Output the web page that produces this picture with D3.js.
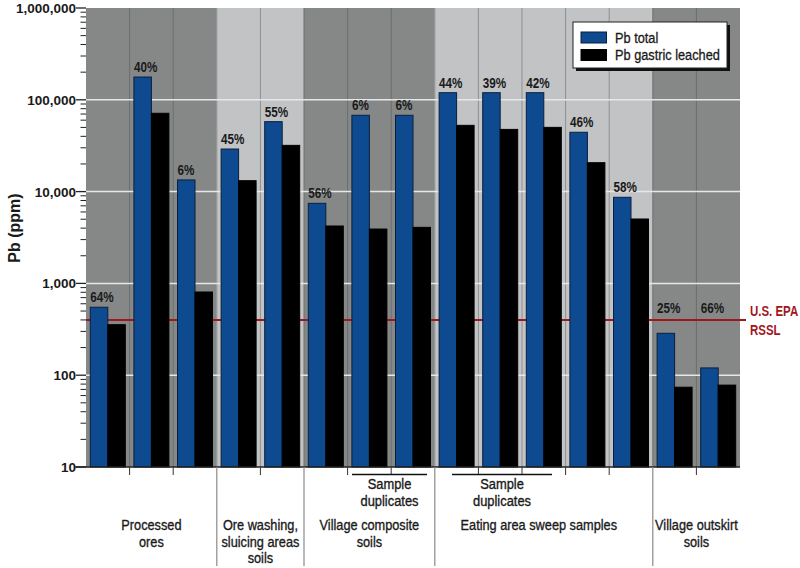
<!DOCTYPE html>
<html><head><meta charset="utf-8">
<script src="https://cdn.jsdelivr.net/npm/d3@7"></script>
<style>
body{margin:0;background:#fff;}
svg{display:block;}
text{font-family:"Liberation Sans",Arial,sans-serif;fill:#1a1a1a;}
</style></head>
<body><svg id="c" width="800" height="568"></svg>
<script>
// ---- data ----
const samples = ["PO-1","PO-2","PO-3","OW-1","OW-2","VC-1","VC-2","VC-3","EA-1","EA-2","EA-3","EA-4","EA-5","VO-1","VO-2"];
const pbTotal   = [550, 177000, 13400, 29100, 57800, 7450, 67800, 67800, 119500, 119500, 119500, 44300, 8670, 286, 120];
const pbLeached = [355, 71300, 806, 13150, 31900, 4220, 3910, 4080, 52700, 47600, 50100, 20650, 5030, 74, 78];
const pctLabels = ["64%","40%","6%","45%","55%","56%","6%","6%","44%","39%","42%","46%","58%","25%","66%"];
const groupNames = [["Processed","ores"],["Ore washing,","sluicing areas","soils"],["Village composite","soils"],["Eating area sweep samples"],["Village outskirt","soils"]];
const groupSizes = [3,2,3,5,2];
const groupShade = ["dark","light","dark","light","dark"];
const duplicateSets = [[6,7],[8,10]];
const yTicks = [10,100,1000,10000,100000,1000000];
const rssl = 400;
const seriesNames = ["Pb total","Pb gastric leached"];

// ---- layout ----
const L=86, R=740, T=8, B=467;
const svg = d3.select("#c");
const x = d3.scaleBand().domain(d3.range(samples.length)).range([L,R]).padding(0);
const x1 = d3.scaleBand().domain([0,1]).range([0,x.bandwidth()]).paddingInner(0).paddingOuter(0.246);
const y = d3.scaleLog().domain([10,1000000]).range([B,T]);
const colors = {dark:"#858887", light:"#c1c3c5"};
const sepColor = {dark:"#6b6e6e", light:"#8e9092"};
const blue="#0d4a8f", red="#a1161c";

function txt(parent, tx, ty, str, o){
  o = Object.assign({size:15, weight:"normal", anchor:"start", sx:1, fill:"#1a1a1a", sw:0}, o||{});
  const t = parent.append("text")
    .attr("transform",`translate(${tx},${ty}) scale(${o.sx},1)`)
    .attr("text-anchor",o.anchor).attr("font-size",o.size).attr("font-weight",o.weight)
    .style("fill",o.fill).text(str);
  if(o.sw) t.attr("stroke",o.fill).attr("stroke-width",o.sw);
  return t;
}

// group extents
let start=0;
const groups = groupSizes.map((n,i)=>{const g={i,s:start,e:start+n-1,shade:groupShade[i],name:groupNames[i]}; start+=n; return g;});

// backgrounds
svg.append("g").selectAll("rect").data(groups).join("rect")
  .attr("x",g=>x(g.s)).attr("y",T).attr("width",g=>x(g.e)+x.bandwidth()-x(g.s)).attr("height",B-T)
  .attr("fill",g=>colors[g.shade]);

// column separators
const sepIdx = d3.range(1,samples.length);
svg.append("g").selectAll("line").data(sepIdx).join("line")
  .attr("x1",i=>x(i)).attr("x2",i=>x(i)).attr("y1",T).attr("y2",B)
  .attr("stroke",i=>{const g=groups.find(g=>i>=g.s&&i<=g.e);return sepColor[g.shade];})
  .attr("stroke-width",1);

// gridlines
svg.append("g").selectAll("line").data(yTicks.slice(1,-1)).join("line")
  .attr("x1",L).attr("x2",R).attr("y1",d=>y(d)).attr("y2",d=>y(d))
  .attr("stroke","#e6e7e7").attr("stroke-width",1.5);

// RSSL line
svg.append("line").attr("x1",L).attr("x2",746).attr("y1",y(rssl)).attr("y2",y(rssl))
  .attr("stroke",red).attr("stroke-width",2);
txt(svg,750,y(rssl)-4,"U.S. EPA",{size:15.5,weight:"bold",sx:0.74,fill:red});
txt(svg,750,y(rssl)+15,"RSSL",{size:15.5,weight:"bold",sx:0.74,fill:red});

// bars
const bars = svg.append("g");
samples.forEach((s,i)=>{
  [pbTotal[i],pbLeached[i]].forEach((v,k)=>{
    bars.append("rect").attr("x",x(i)+x1(k)).attr("y",y(v)).attr("width",x1.bandwidth()).attr("height",B-y(v))
      .attr("fill",k===0?blue:"#000").attr("stroke",k===0?"#0c1f3d":"#000").attr("stroke-width",1);
  });
});

// pct labels
const pg = svg.append("g");
samples.forEach((s,i)=>{
  txt(pg, x(i)+x1(0), Math.min(y(pbTotal[i])-5, y(rssl)-7), pctLabels[i], {size:15, weight:"bold", sx:0.78});
});

// y axis
const yAxisG = svg.append("g");
const minor = [];
for(let e=1;e<6;e++) for(let m=2;m<10;m++) minor.push(m*Math.pow(10,e));
yAxisG.selectAll("line.minor").data(minor).join("line").attr("class","minor")
  .attr("x1",80.5).attr("x2",L).attr("y1",d=>y(d)).attr("y2",d=>y(d)).attr("stroke","#222").attr("stroke-width",1);
yAxisG.selectAll("line.major").data(yTicks).join("line").attr("class","major")
  .attr("x1",76).attr("x2",L).attr("y1",d=>y(d)).attr("y2",d=>y(d)).attr("stroke","#222").attr("stroke-width",1.3);
yTicks.forEach(d=>txt(yAxisG, 76, y(d)+5, d3.format(",")(d), {size:13.5, weight:"bold", anchor:"end", sx:1}));
svg.append("text").attr("transform","translate(20,228) rotate(-90)").attr("text-anchor","middle")
  .attr("font-size",16).attr("font-weight","bold").text("Pb (ppm)");

// x axis baseline
svg.append("line").attr("x1",75).attr("x2",R).attr("y1",B).attr("y2",B).attr("stroke","#222").attr("stroke-width",1.3);
const groupBounds = groups.slice(1).map(g=>g.s);
svg.append("g").selectAll("line").data(sepIdx.filter(i=>!groupBounds.includes(i))).join("line")
  .attr("x1",i=>x(i)).attr("x2",i=>x(i)).attr("y1",B).attr("y2",B+8).attr("stroke","#333");
svg.append("g").selectAll("line").data(groupBounds).join("line")
  .attr("x1",i=>x(i)).attr("x2",i=>x(i)).attr("y1",B).attr("y2",566).attr("stroke","#8a8a8a").attr("stroke-width",1.2);

// duplicates brackets
const dupX = [[352,427],[452,552]];
duplicateSets.forEach((d,j)=>{
  const x0 = dupX[j][0], x2 = dupX[j][1];
  svg.append("line").attr("x1",x0).attr("x2",x2).attr("y1",474.5).attr("y2",474.5).attr("stroke","#111").attr("stroke-width",1.3);
  const cx=(x0+x2)/2;
  txt(svg,cx,489,"Sample",{anchor:"middle",sx:0.86,sw:0.35});
  txt(svg,cx,506,"duplicates",{anchor:"middle",sx:0.86,sw:0.35});
});

// group labels
groups.forEach(g=>{
  const cx = (x(g.s)+x(g.e)+x.bandwidth())/2 - (g.i===3?5:0);
  g.name.forEach((t,k)=>txt(svg,cx,530+k*16.5,t,{anchor:"middle",sx:0.85,sw:0.35}));
});

// legend
const lg = svg.append("g").attr("transform","translate(573,22)");
lg.append("rect").attr("x",3).attr("y",3).attr("width",154).attr("height",46).attr("fill","#111");
lg.append("rect").attr("x",0).attr("y",0).attr("width",154).attr("height",46).attr("fill","#fff").attr("stroke","#222").attr("stroke-width",1);
seriesNames.forEach((n,k)=>{
  lg.append("rect").attr("x",8).attr("y",10+k*17.5).attr("width",25.5).attr("height",11)
    .attr("fill",k===0?blue:"#000").attr("stroke",k===0?"#0c1f3d":"#000");
  txt(lg,42,20.5+k*17.5,n,{size:14.5,sx:0.88,sw:0.3});
});
</script></body></html>
